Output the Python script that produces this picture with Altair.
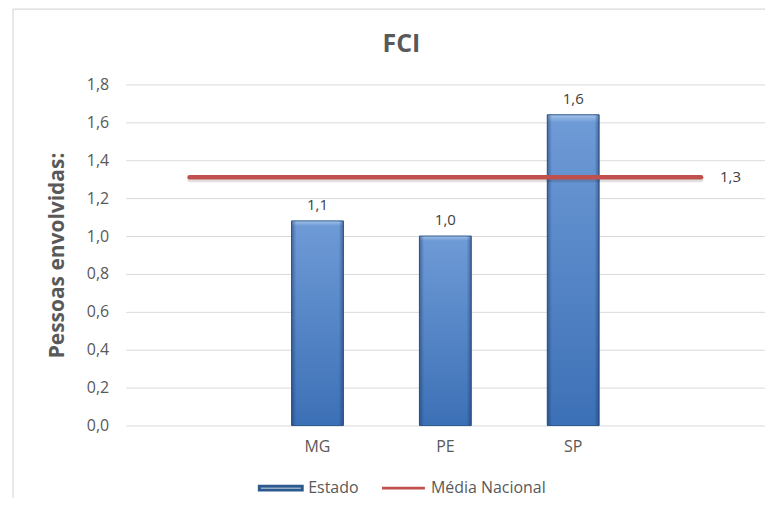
import altair as alt
import pandas as pd

# ---- data ----
categorias = ["", "MG", "PE", "SP", " "]
estado = [None, 1.08, 1.00, 1.64, None]
media_nacional = [1.31, 1.31, 1.31, 1.31, 1.31]
y_ticks = [0.0, 0.2, 0.4, 0.6, 0.8, 1.0, 1.2, 1.4, 1.6, 1.8]
series = ["Estado", "Média Nacional"]

df = pd.DataFrame({"uf": categorias, "estado": estado, "media": media_nacional})
df_leg = pd.DataFrame({"serie": series})

FONT = "Open Sans"
GRAY = "#595959"
BLUE_STROKE = "#2C5A8F"
RED = "#C0504D"

fmt = "replace(format(datum.value, '.1f'), '.', ',')"

x_enc = alt.X(
    "uf:N",
    sort=categorias,
    scale=alt.Scale(domain=categorias, paddingInner=0, paddingOuter=0),
    axis=alt.Axis(title=None, labelAngle=0, ticks=False, domain=False,
                  labelPadding=13, labelFontSize=16, labelColor=GRAY,
                  labelFont=FONT, grid=False),
)

y_axis = alt.Axis(
    values=y_ticks, title="Pessoas envolvidas:", labelExpr=fmt,
    ticks=False, domain=False, grid=True, gridColor="#D9D9D9", gridWidth=1,
    labelPadding=17, labelFontSize=16, labelColor=GRAY, labelFont=FONT,
    titleFont=FONT, titleFontSize=21, titleFontWeight="bold", titleColor=GRAY,
    titleX=-68, titleY=171, titleBaseline="middle", titleAngle=-90,
)
y_scale = alt.Scale(domain=[0, 1.8], nice=False)

vert_grad = alt.Gradient(
    gradient="linear", x1=0, x2=0, y1=0, y2=1,
    stops=[
        alt.GradientStop(offset=0, color="#A3C2EA"),
        alt.GradientStop(offset=0.025, color="#6E9AD6"),
        alt.GradientStop(offset=1, color="#3C70B6"),
    ],
)
side_grad = alt.Gradient(
    gradient="linear", x1=0, x2=1, y1=0, y2=0,
    stops=[
        alt.GradientStop(offset=0, color="rgba(20,45,90,0.45)"),
        alt.GradientStop(offset=0.09, color="rgba(20,45,90,0.0)"),
        alt.GradientStop(offset=0.91, color="rgba(20,45,90,0.0)"),
        alt.GradientStop(offset=1, color="rgba(20,45,90,0.45)"),
    ],
)

base = alt.Chart(df)

bars = base.transform_filter("isValid(datum.estado)").mark_bar(
    width=52, fill=vert_grad, stroke=BLUE_STROKE, strokeWidth=1
).encode(x=x_enc, y=alt.Y("estado:Q", scale=y_scale, axis=y_axis))

bars_side = base.transform_filter("isValid(datum.estado)").mark_bar(
    width=52, fill=side_grad
).encode(x=x_enc, y=alt.Y("estado:Q", scale=y_scale, axis=y_axis))

bar_labels = base.transform_filter("isValid(datum.estado)").transform_calculate(
    rot="replace(format(datum.estado, '.1f'), '.', ',')"
).mark_text(dy=-16, baseline="middle", fontSize=15, color="#404040", font=FONT).encode(
    x=x_enc, y=alt.Y("estado:Q", scale=y_scale, axis=y_axis), text="rot:N"
)

line_shadow = base.mark_line(
    color="#000000", opacity=0.12, strokeWidth=5, strokeCap="round", yOffset=2.5
).encode(x=x_enc, y=alt.Y("media:Q", scale=y_scale, axis=y_axis))

line = base.mark_line(strokeWidth=4.5, strokeCap="round", color=RED).encode(
    x=x_enc, y=alt.Y("media:Q", scale=y_scale, axis=y_axis)
)

line_label = base.transform_filter(alt.datum.uf == categorias[-1]).transform_calculate(
    rot="replace(format(datum.media, '.1f'), '.', ',')"
).mark_text(align="left", baseline="middle", dx=19, fontSize=15, color="#404040", font=FONT).encode(
    x=x_enc, y=alt.Y("media:Q", scale=y_scale, axis=y_axis), text="rot:N"
)

legend = alt.Legend(
    title=None, orient="none", direction="horizontal",
    legendX=132, legendY=381,
    labelFont=FONT, labelFontSize=16, labelColor=GRAY,
    symbolSize=1850, symbolStrokeWidth=3, symbolFillColor="#5B8BCF",
    symbolOpacity=1, labelOffset=4, columnPadding=16,
)

legend_layer = alt.Chart(df_leg).transform_filter("false").mark_point(filled=False).encode(
    color=alt.Color("serie:N", scale=alt.Scale(domain=series, range=[BLUE_STROKE, RED]), legend=legend),
    shape=alt.Shape("serie:N", scale=alt.Scale(domain=series, range=["M-1,-0.09H1V0.09H-1Z", "stroke"]), legend=legend),
)

frame_top = alt.Chart(alt.Data(values=[{}])).mark_rule(color="#D9D9D9", strokeWidth=1.2).encode(
    x=alt.value(-113), x2=alt.value(660), y=alt.value(-75.5)
)
frame_left = alt.Chart(alt.Data(values=[{}])).mark_rule(color="#D9D9D9", strokeWidth=1.2).encode(
    x=alt.value(-113), y=alt.value(-76), y2=alt.value(430)
)

chart = alt.layer(
    frame_top, frame_left, bars, bars_side, bar_labels, line_shadow, line, line_label, legend_layer
).properties(
    width=641, height=342,
    title=alt.TitleParams("FCI", fontSize=25, fontWeight="bold", color=GRAY, font=FONT,
                          dx=-44, dy=61, offset=0, anchor="middle", frame="group",
                          baseline="middle"),
    autosize=alt.AutoSizeParams(type="none"),
    padding={"left": 118, "top": 76, "right": 0, "bottom": 72},
    background="white",
).configure_view(stroke=None)

chart.save("out.html", embed_options={"renderer": "svg", "actions": False})
